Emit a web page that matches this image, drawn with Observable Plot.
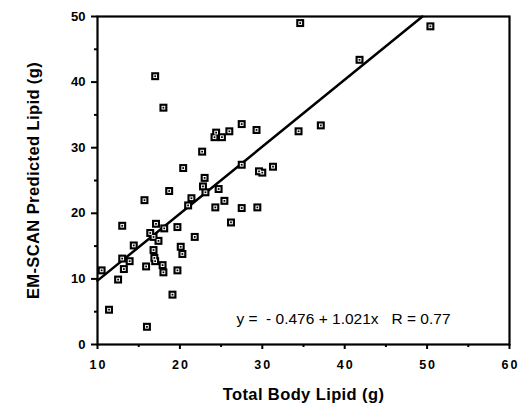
<!DOCTYPE html>
<html>
<head>
<meta charset="utf-8">
<script src="https://cdn.jsdelivr.net/npm/d3@7"></script>
<script src="https://cdn.jsdelivr.net/npm/@observablehq/plot@0.6"></script>
<style>
  html, body { margin: 0; padding: 0; background: #fff; }
  svg { font-family: "Liberation Sans", Arial, sans-serif; }
</style>
</head>
<body>
<div id="chart"></div>
<script>
// Total body lipid (g)
const totalLipid = [
  17.0, 18.0, 20.4, 22.7, 23.0, 24.4, 24.2, 25.1, 26.0, 27.5,
  29.3, 27.5, 29.6, 30.0, 31.3, 34.6, 50.4, 41.8, 34.4, 37.1,
  22.8, 23.1, 24.7, 18.7, 21.4, 21.0, 15.7, 24.3, 25.4, 27.5,
  29.4, 26.2, 13.0, 17.1, 16.4, 18.1, 19.7, 16.8, 17.4, 21.8,
  14.4, 20.1, 20.3, 16.8, 13.0, 13.9, 13.2, 16.9, 17.0, 15.9,
  17.9, 18.0, 19.7, 10.5, 12.5, 19.1, 11.4, 16.0
];
// EM-SCAN predicted lipid (g)
const predictedLipid = [
  40.9, 36.1, 26.9, 29.4, 25.4, 32.3, 31.6, 31.6, 32.5, 33.6,
  32.7, 27.4, 26.4, 26.2, 27.1, 49.0, 48.5, 43.4, 32.5, 33.4,
  24.1, 23.2, 23.7, 23.4, 22.3, 21.2, 22.0, 20.9, 21.9, 20.8,
  20.9, 18.6, 18.1, 18.4, 17.0, 17.7, 17.9, 16.4, 15.8, 16.4,
  15.1, 14.9, 13.8, 14.4, 13.1, 12.7, 11.5, 13.2, 12.7, 11.9,
  12.1, 11.0, 11.3, 11.3, 9.9, 7.6, 5.3, 2.7
];
const xTicks = [10, 20, 30, 40, 50, 60];
const xMinor = [15, 25, 35, 45, 55];
const yTicks = [0, 10, 20, 30, 40, 50];
const yMinor = [5, 15, 25, 35, 45];
const intercept = -0.476;
const slope = 1.021;
const R = 0.77;
const equation = `y =  - ${Math.abs(intercept).toFixed(3)} + ${slope.toFixed(3)}x   R = ${R.toFixed(2)}`;

const xDomain = [10, 60];
const yDomain = [0, 50];
const points = totalLipid.map((x, i) => ({x, y: predictedLipid[i]}));
// regression line clipped to the plot domain
const lineX = [xDomain[0], (yDomain[1] - intercept) / slope];
const line = lineX.map(x => ({x, y: intercept + slope * x}));

const chart = Plot.plot({
  width: 518,
  height: 412,
  marginLeft: 97,
  marginRight: 9,
  marginTop: 16,
  marginBottom: 68,
  style: {fontFamily: '"Liberation Sans", Arial, sans-serif', background: "#fff"},
  x: {domain: xDomain},
  y: {domain: yDomain},
  marks: [
    Plot.frame({stroke: "#000", strokeWidth: 2.2}),
    Plot.axisX({ticks: xTicks, tickSize: 5, strokeWidth: 2, tickPadding: 11,
      fontSize: 12.5, fontWeight: "bold", label: "Total Body Lipid (g)",
      labelAnchor: "center", labelArrow: "none", labelOffset: 55}),
    Plot.axisX({ticks: xMinor, tickSize: 3, strokeWidth: 2, text: null, label: null}),
    Plot.axisY({ticks: yTicks, tickSize: 6, strokeWidth: 2, tickPadding: 6,
      fontSize: 13, fontWeight: "bold", label: "EM-SCAN Predicted Lipid (g)",
      labelAnchor: "center", labelArrow: "none", labelOffset: 70}),
    Plot.axisY({ticks: yMinor, tickSize: 3, strokeWidth: 2, text: null, label: null}),
    Plot.line(line, {x: "x", y: "y", stroke: "#000", strokeWidth: 2.5}),
    Plot.dot(points, {x: "x", y: "y", symbol: "square", r: 4.5, fill: "#000", stroke: "none"}),
    Plot.dot(points, {x: "x", y: "y", symbol: "square", r: 2.1, fill: "#fff", stroke: "none"}),
    Plot.dot(points, {x: "x", y: "y", symbol: "square", r: 1.0, fill: "#000", stroke: "none"}),
    Plot.text([equation], {frameAnchor: "bottom-right", textAnchor: "end", lineAnchor: "bottom",
      dx: -59, dy: -21, fontSize: 15.5, fill: "#000"})
  ]
});
chart.querySelectorAll("text").forEach(t => t.style.whiteSpace = "pre");
// axis title styling
chart.querySelectorAll('[aria-label="x-axis label"] text, [aria-label="y-axis label"] text').forEach(t => {
  t.style.fontSize = "16.5px";
  t.style.fontWeight = "bold";
  t.style.letterSpacing = "0.4px";
});
chart.querySelectorAll('[aria-label="x-axis tick label"] text').forEach(t => {
  t.style.letterSpacing = "2px";
  t.setAttribute("dx", "1");
});
document.getElementById("chart").appendChild(chart);
</script>
</body>
</html>
